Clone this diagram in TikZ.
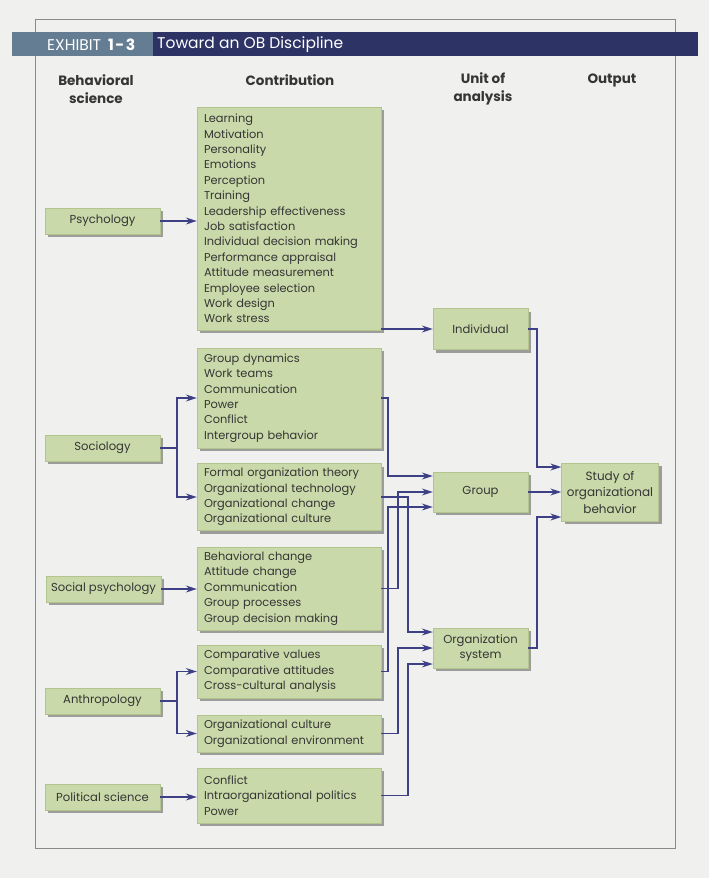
\documentclass[tikz,border=0pt]{standalone}
\usepackage{fontspec}
\setmainfont{Poppins}
\usetikzlibrary{arrows.meta,shadows}
\definecolor{bg}{HTML}{F0F0EE}
\definecolor{boxg}{HTML}{C9D9A9}
\definecolor{boxedge}{HTML}{B3C48F}
\definecolor{arrowc}{HTML}{3D4085}
\definecolor{navy}{HTML}{2E3366}
\definecolor{slate}{HTML}{647D93}
\definecolor{txt}{HTML}{353535}
\definecolor{framec}{HTML}{8A8A8A}
\begin{document}
\begin{tikzpicture}[x=1pt,y=-1pt,
  every node/.style={font=\fontsize{11.4}{15.4}\selectfont, text=txt},
  gbox/.style={fill=boxg, draw=boxedge, line width=0.4pt,
    drop shadow={shadow xshift=3pt,shadow yshift=-3pt,opacity=0.35,fill=black}},
  sbox/.style={gbox, minimum width=115pt, minimum height=26pt, inner sep=0pt, font=\fontsize{11.6}{14}\selectfont},
  cbox/.style={gbox, minimum width=184pt, text width=170pt, inner xsep=7pt, inner ysep=0pt, align=left},
  ubox/.style={gbox, minimum width=95pt, minimum height=40pt, inner sep=0pt, align=center, font=\fontsize{11.6}{15}\selectfont},
  hd/.style={font=\fontsize{13.5}{18}\selectfont\bfseries, text=txt, align=center},
  bandtxt/.style={anchor=west, text=white, font=\fontsize{15.5}{17}\selectfont, inner sep=0pt},
  ln/.style={draw=arrowc, line width=1.3pt},
  arr/.style={ln, -{Stealth[length=11pt,width=7pt]}},
]
\useasboundingbox (0,0) rectangle (709,878);
\fill[bg] (0,0) rectangle (709,878);
\draw[framec, line width=0.6pt] (35,19) rectangle (675,848);
% title band
\fill[slate] (12,32) rectangle (153,56);
\fill[navy] (153,32) rectangle (698,56);
\node[bandtxt] (ex) at (47,44.5) {EXHIBIT\hspace{7pt}\textbf{1\kern1.5pt-\kern1.5pt3}};
\node[bandtxt] (ttl) at (157,44.5) {Toward an OB Discipline};
% column heads
\node[hd] (h1) at (96,89) {Behavioral\\science};
\node[hd] (h2) at (290,80) {Contribution};
\node[hd] (h3) at (483,89) {Unit of\\analysis};
\node[hd] (h4) at (612,80) {Output};
% sciences
\node[sbox] (s1) at (102.5,221) {Psychology};
\node[sbox] (s2) at (102.5,448) {Sociology};
\node[sbox] (s3) at (103.5,589) {Social psychology};
\node[sbox] (s4) at (102.5,701) {Anthropology};
\node[sbox] (s5) at (102.5,797) {Political science};
% contributions
\node[cbox, minimum height=223pt] (c1) at (289,218.5) {Learning\\Motivation\\Personality\\Emotions\\Perception\\Training\\Leadership effectiveness\\Job satisfaction\\Individual decision making\\Performance appraisal\\Attitude measurement\\Employee selection\\Work design\\Work stress};
\node[cbox, minimum height=100pt] (c2) at (289,398) {Group dynamics\\Work teams\\Communication\\Power\\Conflict\\Intergroup behavior};
\node[cbox, minimum height=67pt] (c3) at (289,497) {Formal organization theory\\Organizational technology\\Organizational change\\Organizational culture};
\node[cbox, minimum height=83pt] (c4) at (289,588.5) {Behavioral change\\Attitude change\\Communication\\Group processes\\Group decision making};
\node[cbox, minimum height=53pt] (c5) at (289,671.5) {Comparative values\\Comparative attitudes\\Cross-cultural analysis};
\node[cbox, minimum height=37pt] (c6) at (289,733.5) {Organizational culture\\Organizational environment};
\node[cbox, minimum height=55pt] (c7) at (289,795.5) {Conflict\\Intraorganizational politics\\Power};
% units
\node[ubox, minimum height=41pt] (u1) at (480.5,329) {Individual};
\node[ubox] (u2) at (480.5,492) {Group};
\node[ubox] (u3) at (480.5,648) {Organization\\system};
\node[gbox, minimum width=97pt, minimum height=58pt, inner sep=0pt, align=center, font=\fontsize{12}{16.5}\selectfont] (t) at (610,492) {Study of\\organizational\\behavior};
% target coordinates
\coordinate (g1) at (u2.west |- 0,476);
\coordinate (g2) at (u2.west |- 0,492);
\coordinate (g3) at (u2.west |- 0,507);
\coordinate (o1) at (u3.west |- 0,632);
\coordinate (o2) at (u3.west |- 0,648);
\coordinate (o3) at (u3.west |- 0,664);
\coordinate (t1) at (t.west |- 0,467);
\coordinate (t2) at (t.west |- 0,492);
\coordinate (t3) at (t.west |- 0,517);
\coordinate (f2) at (177,448);
\coordinate (f4) at (177,701);
% left connectors
\draw[arr] (s1.east) -- (c1.west |- s1.east);
\draw[ln] (s2.east) -- (f2);
\draw[arr] (f2) |- (c2.west);
\draw[arr] (f2) |- (c3.west);
\draw[arr] (s3.east) -- (c4.west |- s3.east);
\draw[ln] (s4.east) -- (f4);
\draw[arr] (f4) |- (c5.west);
\draw[arr] (f4) |- (c6.west);
\draw[arr] (s5.east) -- (c7.west |- s5.east);
% middle connectors
\draw[arr] (c1.east |- u1.west) -- (u1.west);
\draw[arr] (c2.east) -| (388,476) -- (g1);
\draw[arr] (c3.east) -| (408,632) -- (o1);
\draw[arr] (c4.east) -| (398,492) -- (g2);
\draw[arr] (c5.east) -| (388,507) -- (g3);
\draw[arr] (c6.east) -| (398,648) -- (o2);
\draw[arr] (c7.east) -| (408,664) -- (o3);
% right connectors
\draw[arr] (u1.east) -| (537,467) -- (t1);
\draw[arr] (u2.east) -- (t2);
\draw[arr] (u3.east) -| (537,517) -- (t3);
\end{tikzpicture}
\end{document}
